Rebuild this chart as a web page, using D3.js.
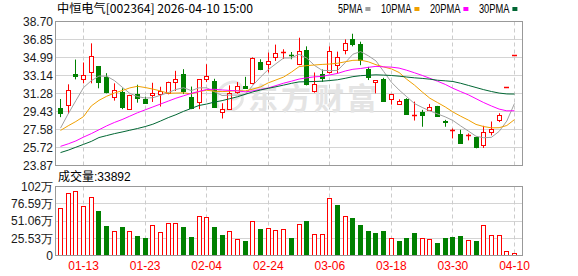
<!DOCTYPE html>
<html>
<head>
<meta charset="utf-8">
<script src="https://cdn.jsdelivr.net/npm/d3@7"></script>
<style>
  html, body { margin: 0; padding: 0; background: #fff; }
  svg { display: block; }
</style>
</head>
<body>
<svg id="chart" width="578" height="276"></svg>
<script>
// ---------------- DATA ----------------
const dates = [
  "01-08","01-09","01-12","01-13","01-14","01-15","01-16","01-19","01-20","01-21",
  "01-22","01-23","01-26","01-27","01-28","01-29","01-30","02-02","02-03","02-04",
  "02-05","02-06","02-09","02-10","02-11","02-12","02-13","02-24","02-25","02-26",
  "02-27","03-02","03-03","03-04","03-05","03-06","03-09","03-10","03-11","03-12",
  "03-13","03-16","03-17","03-18","03-19","03-20","03-23","03-24","03-25","03-26",
  "03-27","03-30","03-31","04-01","04-02","04-03","04-07","04-08","04-09","04-10"
];
const tickDates = ["01-13","01-23","02-04","02-24","03-06","03-18","03-30","04-10"];

const openP = [
  29.77,30.11,33.31,32.74,33.45,34.07,32.94,30.93,31.44,29.67,
  31.23,30.69,31.13,31.23,31.37,32.49,33.28,30.90,30.41,32.80,
  32.56,29.39,29.67,31.47,32.05,32.33,34.51,34.33,35.09,35.40,
  35.25,34.30,35.81,31.57,33.28,33.45,34.27,35.81,36.86,36.35,
  33.82,32.43,32.74,30.69,30.18,30.75,29.05,29.39,29.60,30.01,
  28.50,27.55,27.14,27.00,26.84,25.95,27.32,28.55,32.00,35.20
];
const highP = [
  30.72,32.23,34.78,34.48,36.45,34.10,33.38,32.33,31.82,31.15,
  32.19,30.96,32.39,31.98,32.50,33.62,33.79,32.00,32.74,34.30,
  32.80,30.28,32.12,32.46,33.00,35.00,34.81,35.50,36.32,35.84,
  35.56,37.03,36.14,33.45,33.76,36.14,35.60,36.86,37.44,36.62,
  34.03,32.63,32.90,31.25,30.69,30.80,30.45,29.60,30.21,30.01,
  28.57,27.68,27.55,27.17,26.84,27.96,28.40,29.25,32.00,35.20
];
const lowP = [
  28.85,29.19,32.74,32.33,32.33,31.82,31.30,30.55,29.67,29.60,
  30.34,30.28,30.41,29.94,31.20,31.54,31.23,29.67,29.67,32.46,
  29.87,28.71,29.60,31.26,31.82,32.23,33.69,33.45,34.64,34.84,
  34.81,34.20,32.12,31.37,32.49,33.35,33.35,35.32,36.14,34.20,
  32.67,31.30,30.45,30.14,30.11,29.20,28.50,27.86,29.49,28.88,
  27.86,26.66,26.15,26.46,25.64,25.68,26.97,28.34,32.00,35.20
];
const closeP = [
  29.32,31.61,33.04,33.15,35.12,32.43,31.47,31.61,29.94,31.10,
  30.82,30.34,31.37,31.51,32.46,32.77,31.54,29.83,32.74,33.07,
  29.87,29.70,31.37,32.05,31.85,34.99,33.79,34.68,35.50,35.52,
  35.15,35.70,32.23,32.26,32.90,35.66,35.09,36.52,36.38,34.71,
  32.94,32.63,30.52,31.23,30.49,29.22,29.08,29.12,29.87,29.01,
  28.34,27.56,26.15,27.02,25.74,27.32,27.65,29.12,32.00,35.20
];
const priorClose = 28.90; // close of the day before the first bar

// volume, in 万 (10k shares)
const volume = [
  70.1,92.6,95.6,73.1,86.6,66.1,43.5,36.0,42.0,36.0,
  28.5,25.5,45.0,34.5,48.0,48.0,42.0,27.0,58.3,56.6,
  42.0,30.0,36.0,25.0,21.0,50.6,39.0,40.0,37.1,38.6,
  25.5,46.5,51.0,31.5,31.5,85.1,75.1,58.1,55.6,45.0,
  36.0,33.0,36.0,26.6,21.0,25.5,33.0,26.6,25.0,18.0,
  25.5,27.0,28.5,23.5,21.0,44.5,31.0,31.0,7.0,3.3892
];
const lastVolume = 33892;

const ma5 = [
  27.72,29.19,30.55,31.90,32.60,33.08,33.07,32.62,31.95,31.30,
  30.97,30.82,30.85,31.10,31.38,31.70,31.88,31.58,31.87,31.87,
  31.47,31.08,31.12,31.12,31.17,32.13,32.98,33.75,34.35,34.94,
  34.95,35.33,34.93,34.18,33.67,33.64,33.66,34.46,35.33,35.60,
  35.17,34.64,33.55,32.45,31.65,30.95,30.25,29.85,29.50,29.18,
  28.88,28.50,27.95,27.42,26.88,26.73,26.77,27.38,28.45,30.26
];
const ma10 = [
  27.48,27.96,28.40,28.91,30.00,30.58,31.00,31.33,31.58,31.86,
  32.03,31.90,31.74,31.55,31.31,31.33,31.35,31.25,31.48,31.62,
  31.52,31.48,31.52,31.58,31.55,31.74,31.97,32.38,32.68,32.98,
  33.48,34.05,34.16,34.22,34.28,34.32,34.40,34.55,34.70,34.72,
  34.55,34.25,34.02,33.82,33.45,32.75,32.15,31.45,30.80,30.35,
  29.90,29.38,28.95,28.55,28.10,27.88,27.75,27.76,27.99,28.60
];
const ma20 = [
  25.84,26.10,26.40,26.80,27.15,27.55,27.95,28.30,28.60,28.95,
  29.30,29.60,29.90,30.20,30.50,30.80,31.05,31.30,31.50,31.70,
  31.72,31.65,31.60,31.56,31.45,31.55,31.70,31.85,32.10,32.35,
  32.55,32.77,32.90,33.00,33.05,33.20,33.35,33.60,33.78,33.86,
  33.98,34.08,34.03,34.00,33.90,33.68,33.42,33.15,32.85,32.55,
  32.22,31.82,31.48,31.15,30.75,30.35,30.00,29.68,29.50,29.51
];
const ma30 = [
  25.20,25.45,25.75,26.05,26.35,26.75,26.95,27.15,27.32,27.50,
  27.68,27.88,28.12,28.45,28.80,29.10,29.45,29.75,30.05,30.20,
  30.40,30.55,30.75,30.95,31.20,31.45,31.65,31.82,31.98,32.15,
  32.33,32.48,32.50,32.52,32.55,32.62,32.70,32.85,33.02,33.12,
  33.17,33.21,33.18,33.14,33.07,32.98,32.90,32.84,32.76,32.65,
  32.59,32.52,32.34,32.12,31.90,31.68,31.49,31.33,31.24,31.23
];

const priceTicks = [23.87,25.72,27.58,29.43,31.28,33.14,34.99,36.85,38.70];
const volTicks = [0,25.53,51.06,76.59,102.12];
const volTickLabels = ["0","25.53万","51.06万","76.59万","102万"];

const title = "中恒电气[002364] 2026-04-10 15:00";
const maNames = ["5PMA","10PMA","20PMA","30PMA"];
const volTitle = "成交量";
const watermark = "东方财富";

// ---------------- STYLE ----------------
const RED = "#ff0000", GREEN = "#008000";
const maColors = ["#a0a0a0","#f0a000","#ff00ff","#006633"];
const latin = "'Liberation Sans', Arial, sans-serif";
const cjk = "'Noto Sans CJK SC', sans-serif";

const L = 55.5, R = 522.5;
const pTop = 21.5, pBot = 165.5;
const vTop = 186.5, vBot = 255.5;

const svg = d3.select("#chart");

const x = d3.scalePoint().domain(dates).range([60.5, 514.5]);
const y = d3.scaleLinear().domain([priceTicks[0], priceTicks[priceTicks.length-1]]).range([pBot, pTop]);
const yv = d3.scaleLinear().domain([0, volTicks[volTicks.length-1]]).range([vBot, vTop]);
const cx = d => Math.round(x(d) - 0.5) + 0.5;

// ---------------- GRID ----------------
function grid(top, bot, ticks, scale) {
  const g = svg.append("g");
  g.selectAll("line.h").data(ticks.slice(1, -1)).join("line")
    .attr("x1", L).attr("x2", R)
    .attr("y1", d => Math.round(scale(d) - 0.5) + 0.5)
    .attr("y2", d => Math.round(scale(d) - 0.5) + 0.5)
    .attr("stroke", "#d4d4d4").attr("stroke-width", 1);
  g.selectAll("line.v").data(tickDates).join("line")
    .attr("x1", cx).attr("x2", cx).attr("y1", top).attr("y2", bot)
    .attr("stroke", "#cccccc").attr("stroke-dasharray", "4,3");
}
grid(pTop, pBot, priceTicks, y);
grid(vTop, vBot, volTicks, yv);

// watermark (logo swirl + text)
const wm = svg.append("g").attr("fill", "none").attr("stroke", "#e6e6e6").attr("stroke-width", 3);
wm.append("path").attr("d", "M218,108 C214,96 220,84 232,82 C240,81 244,88 240,95 C236,101 228,100 228,94");
wm.append("path").attr("d", "M224,110 C236,112 244,104 242,96");
svg.append("text").attr("x", 248).attr("y", 109)
  .attr("font-family", cjk).attr("font-weight", "bold").attr("font-size", 30)
  .attr("fill", "#e4e4e4").attr("letter-spacing", 3).text(watermark);

// ---------------- AXES LABELS ----------------
svg.append("g").selectAll("text").data(priceTicks).join("text")
  .attr("x", 53).attr("y", d => y(d)).attr("dy", "0.36em")
  .attr("text-anchor", "end").attr("font-family", latin).attr("font-size", 12)
  .attr("fill", "#1a1a1a").text(d => d.toFixed(2));

svg.append("g").selectAll("text").data(volTicks).join("text")
  .attr("x", 53).attr("y", d => yv(d)).attr("dy", "0.36em")
  .attr("text-anchor", "end").attr("font-family", latin).attr("font-size", 12)
  .attr("fill", "#1a1a1a").text((d, i) => volTickLabels[i]);

svg.append("g").selectAll("text").data(tickDates).join("text")
  .attr("x", d => x(d)).attr("y", 270).attr("text-anchor", "middle")
  .attr("font-family", latin).attr("font-size", 12).attr("fill", RED).text(d => d);

// ---------------- CANDLES ----------------
const cg = svg.append("g");
dates.forEach((d, i) => {
  const o = openP[i], c = closeP[i], h = highP[i], l = lowP[i];
  const up = c >= o;
  const col = up ? RED : GREEN;
  const xc = cx(d);
  cg.append("line").attr("x1", xc).attr("x2", xc)
    .attr("y1", y(h)).attr("y2", y(l)).attr("stroke", col).attr("stroke-width", 1);
  const top = y(Math.max(o, c)), bot = y(Math.min(o, c));
  if (bot - top < 1.5) {
    cg.append("line").attr("x1", xc - 2.5).attr("x2", xc + 2.5)
      .attr("y1", Math.round(top) + 0.5).attr("y2", Math.round(top) + 0.5)
      .attr("stroke", col).attr("stroke-width", 1.5);
  } else if (up) {
    const t = Math.round(top) + 0.5, b = Math.round(bot) + 0.5;
    cg.append("rect").attr("x", xc - 2).attr("y", t).attr("width", 4).attr("height", b - t)
      .attr("fill", "#fff").attr("stroke", col).attr("stroke-width", 1);
  } else {
    const t = Math.round(top), b = Math.round(bot) + 1;
    cg.append("rect").attr("x", xc - 2.5).attr("y", t).attr("width", 5).attr("height", b - t)
      .attr("fill", col);
  }
});

// ---------------- MA LINES ----------------
svg.append("clipPath").attr("id", "pclip").append("rect")
  .attr("x", L).attr("y", pTop).attr("width", R - L).attr("height", pBot - pTop);
const maData = [ma5, ma10, ma20, ma30];
const line = d3.line().x((v, i) => x(dates[i])).y(v => y(v));
const mg = svg.append("g").attr("clip-path", "url(#pclip)");
maData.forEach((arr, k) => {
  mg.append("path").attr("d", line(arr)).attr("fill", "none")
    .attr("stroke", maColors[k]).attr("stroke-width", 1);
});

// ---------------- VOLUME ----------------
const vg = svg.append("g");
dates.forEach((d, i) => {
  const prev = i === 0 ? priorClose : closeP[i - 1];
  const up = closeP[i] >= prev;
  const col = up ? RED : GREEN;
  const xc = cx(d);
  const t = Math.round(yv(volume[i])) + 0.5;
  if (up) {
    vg.append("rect").attr("x", xc - 2).attr("y", t).attr("width", 4).attr("height", Math.max(1, vBot - t))
      .attr("fill", "#fff").attr("stroke", col).attr("stroke-width", 1);
  } else {
    vg.append("rect").attr("x", xc - 2.5).attr("y", t - 0.5).attr("width", 5).attr("height", vBot - t + 0.5)
      .attr("fill", col);
  }
});

// ---------------- FRAMES ----------------
[[pTop, pBot], [vTop, vBot]].forEach(([t, b]) => {
  svg.append("rect").attr("x", L).attr("y", t).attr("width", R - L).attr("height", b - t)
    .attr("fill", "none").attr("stroke", "#999").attr("stroke-width", 1);
});

// ---------------- TITLES / LEGEND ----------------
svg.append("text").attr("x", 57).attr("y", 13).attr("font-family", cjk).attr("font-size", 12)
  .attr("fill", "#000").attr("textLength", 196).attr("lengthAdjust", "spacingAndGlyphs").text(title);

let lx = 338;
maNames.forEach((n, k) => {
  const w = n.length * 6.1;
  svg.append("text").attr("x", lx).attr("y", 13).attr("font-family", latin).attr("font-size", 12)
    .attr("fill", "#000").attr("textLength", w).attr("lengthAdjust", "spacingAndGlyphs").text(n);
  svg.append("rect").attr("x", lx + w + 3).attr("y", 7).attr("width", 5).attr("height", 4)
    .attr("fill", maColors[k]);
  lx += w + 3 + 5 + 10.5;
});

const vt = svg.append("text").attr("x", 58).attr("y", 181).attr("font-size", 12).attr("fill", "#000");
vt.append("tspan").attr("font-family", cjk).text(volTitle);
vt.append("tspan").attr("font-family", latin).text(":" + lastVolume);
</script>
</body>
</html>
